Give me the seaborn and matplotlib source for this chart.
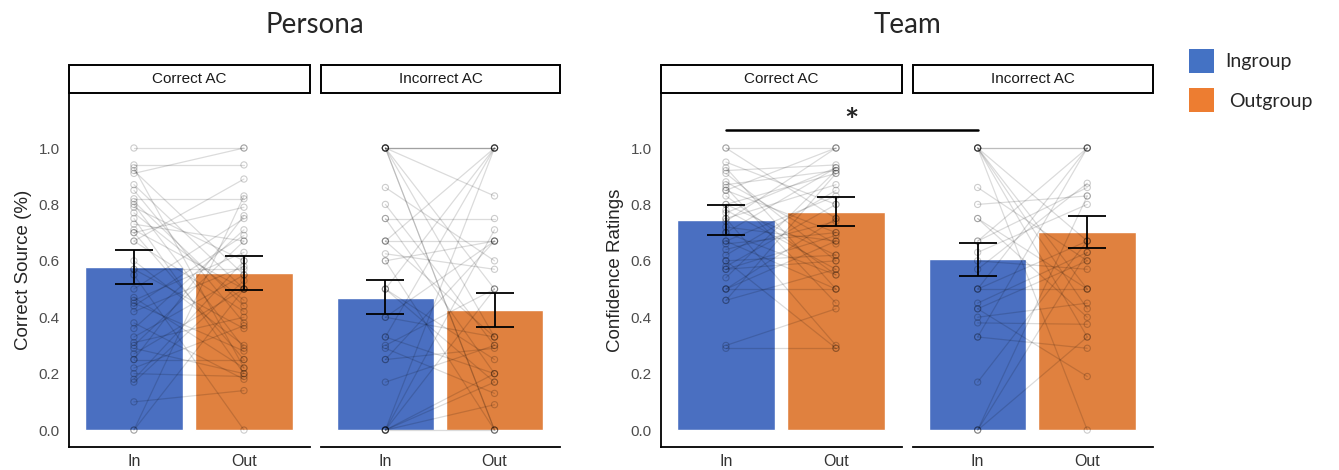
import pandas as pd
import matplotlib.pyplot as plt
import seaborn as sns
from matplotlib.patches import Rectangle
from matplotlib.lines import Line2D

sns.set_style("white")
plt.rcParams['font.family'] = ['Liberation Sans', 'DejaVu Sans']

# ---- data ----
groups = ["In", "Out"]
bar_colors = ["#4A6FC1", "#E0813F"]
facets = ["Correct AC", "Incorrect AC"]

# bar means and error bar bounds (In, Out)
persona_correct_mean = [0.577, 0.558]
persona_correct_lo = [0.517, 0.498]
persona_correct_hi = [0.637, 0.618]
persona_incorrect_mean = [0.470, 0.425]
persona_incorrect_lo = [0.411, 0.364]
persona_incorrect_hi = [0.532, 0.485]
team_correct_mean = [0.744, 0.774]
team_correct_lo = [0.691, 0.724]
team_correct_hi = [0.797, 0.826]
team_incorrect_mean = [0.605, 0.701]
team_incorrect_lo = [0.546, 0.646]
team_incorrect_hi = [0.664, 0.758]

# individual participants (In value, Out value)
persona_correct_in = [1.0, 0.94, 0.92, 0.91, 0.87, 0.85, 0.82, 0.80, 0.79, 0.77, 0.75, 0.73, 0.71,
                      0.70, 0.70, 0.67, 0.67, 0.57, 0.57, 0.50, 0.47, 0.46, 0.45, 0.44, 0.42, 0.38,
                      0.36, 0.33, 0.31, 0.30, 0.29, 0.27, 0.25, 0.25, 0.22, 0.20, 0.18, 0.17, 0.10,
                      0.0, 0.0, 0.60, 0.55, 0.81, 0.93]
persona_correct_out = [1.0, 0.94, 0.55, 1.0, 0.50, 0.38, 0.82, 0.29, 0.60, 0.46, 0.20, 0.67, 0.50,
                       0.25, 0.79, 0.42, 0.89, 0.57, 0.36, 0.75, 0.22, 0.63, 0.28, 0.69, 0.58, 0.18,
                       0.71, 0.55, 0.40, 0.67, 0.20, 0.50, 0.25, 0.76, 0.37, 0.19, 0.60, 0.53, 0.14,
                       0.50, 0.83, 0.30, 0.0, 0.44, 0.22]

persona_incorrect_in = [1.0, 1.0, 1.0, 1.0, 1.0, 1.0, 1.0, 1.0, 0.86, 0.80, 0.75, 0.75, 0.67, 0.67,
                        0.67, 0.625, 0.60, 0.60, 0.50, 0.50, 0.50, 0.40, 0.40, 0.33, 0.33, 0.30,
                        0.29, 0.25, 0.25, 0.17, 0.0, 0.0, 0.0, 0.0, 0.0, 0.0, 0.0]
persona_incorrect_out = [1.0, 1.0, 1.0, 0.0, 0.0, 0.50, 0.83, 0.33, 0.60, 0.30, 0.75, 0.20, 1.0, 0.67,
                         0.33, 0.57, 0.67, 0.0, 1.0, 0.25, 0.17, 0.67, 0.33, 1.0, 0.20, 0.50,
                         0.13, 0.67, 0.29, 0.30, 1.0, 0.50, 0.71, 0.20, 0.09, 0.0, 0.17]

team_correct_in = [1.0, 1.0, 0.93, 0.92, 0.91, 0.87, 0.86, 0.85, 0.85, 0.80, 0.78, 0.75, 0.75, 0.72,
                   0.70, 0.70, 0.67, 0.67, 0.64, 0.62, 0.60, 0.60, 0.58, 0.57, 0.57, 0.54, 0.50,
                   0.50, 0.50, 0.46, 0.46, 0.30, 0.29, 0.80, 0.74, 0.66, 0.95, 0.88, 0.83, 0.77]
team_correct_out = [1.0, 0.75, 0.50, 0.94, 0.60, 0.92, 0.45, 0.70, 1.0, 0.91, 0.57, 0.87, 0.30, 0.67,
                    0.93, 0.55, 0.83, 0.50, 0.74, 0.85, 0.62, 0.29, 0.80, 0.69, 0.60, 0.92, 0.50,
                    0.75, 0.67, 0.57, 0.91, 0.43, 0.29, 0.62, 1.0, 0.70, 0.80, 0.66, 0.55, 0.93]

team_incorrect_in = [1.0, 1.0, 1.0, 1.0, 1.0, 1.0, 1.0, 0.86, 0.80, 0.75, 0.75, 0.67, 0.67, 0.63,
                     0.60, 0.57, 0.50, 0.50, 0.50, 0.45, 0.43, 0.43, 0.40, 0.38, 0.33, 0.33, 0.17,
                     0.0, 0.0, 0.0]
team_incorrect_out = [1.0, 1.0, 0.50, 0.43, 0.0, 0.67, 0.33, 0.60, 0.83, 0.50, 0.40, 1.0, 0.86, 0.80,
                      0.57, 0.875, 1.0, 0.50, 0.67, 0.63, 0.60, 0.19, 0.45, 0.375, 1.0, 0.29, 0.67,
                      0.83, 0.33, 0.63]

panels = [
    (persona_correct_mean, persona_correct_lo, persona_correct_hi, persona_correct_in, persona_correct_out),
    (persona_incorrect_mean, persona_incorrect_lo, persona_incorrect_hi, persona_incorrect_in, persona_incorrect_out),
    (team_correct_mean, team_correct_lo, team_correct_hi, team_correct_in, team_correct_out),
    (team_incorrect_mean, team_incorrect_lo, team_incorrect_hi, team_incorrect_in, team_incorrect_out),
]

W, H = 1339, 470
fig = plt.figure(figsize=(W / 100, H / 100), dpi=100)

# axes left/right edges in pixels
edges = [(69, 310), (321, 560), (661, 902), (913, 1153)]
top_px, bot_px = 93, 447

axes = []
for i, (l, r) in enumerate(edges):
    ax = fig.add_axes([l / W, (H - bot_px) / H, (r - l) / W, (bot_px - top_px) / H])
    mean, lo, hi, v_in, v_out = panels[i]

    bars = pd.DataFrame({"group": groups, "mean": mean})
    sns.barplot(data=bars, x="group", y="mean", hue="group", palette=bar_colors,
                saturation=1, width=0.89, legend=False, ax=ax, zorder=1)

    # individual participant lines
    n = len(v_in)
    people = pd.DataFrame({
        "id": list(range(n)) * 2,
        "pos": [0] * n + [1] * n,
        "value": v_in + v_out,
    })
    sns.lineplot(data=people, x="pos", y="value", units="id", estimator=None,
                 color="black", alpha=0.14, linewidth=0.9, ax=ax, zorder=2)
    sns.scatterplot(data=people, x="pos", y="value", facecolor="none", edgecolor="black",
                    alpha=0.2, s=20, linewidth=0.8, ax=ax, zorder=3)

    # error bars
    yerr = [[m - a for m, a in zip(mean, lo)], [b - m for m, b in zip(mean, hi)]]
    ax.errorbar([0, 1], mean, yerr=yerr, fmt="none", ecolor="black",
                elinewidth=1.3, capsize=14, capthick=1.3, zorder=4)

    ax.set_xlim(-0.59, 1.6)
    ax.set_ylim(-0.06, 1.195)
    ax.set_xticks([0, 1])
    ax.set_xticklabels(groups, fontsize=11.5, color="#333333")
    ax.set_yticks([0, 0.2, 0.4, 0.6, 0.8, 1.0])
    ax.set_xlabel("")
    ax.set_ylabel("")
    ax.tick_params(axis="both", length=3, width=1, color="#333333", direction="out")
    ax.tick_params(axis="y", labelsize=11, labelcolor="#4D4D4D")
    ax.tick_params(axis="x", pad=2)
    for s in ["top", "right"]:
        ax.spines[s].set_visible(False)
    ax.spines["bottom"].set_linewidth(1.3)
    ax.spines["bottom"].set_color("black")
    if i % 2 == 0:
        ax.spines["left"].set_linewidth(1.3)
        ax.spines["left"].set_color("black")
        ax.set_yticklabels(["0.0", "0.2", "0.4", "0.6", "0.8", "1.0"])
    else:
        ax.spines["left"].set_visible(False)
        ax.tick_params(axis="y", left=False, labelleft=False)

    # facet strip
    strip_h = (top_px - 65) / (bot_px - top_px)
    ax.add_patch(Rectangle((0, 1), 1, strip_h, transform=ax.transAxes, facecolor="white",
                           edgecolor="black", linewidth=1.4, clip_on=False))
    ax.text(0.5, 1 + strip_h / 2, facets[i % 2], transform=ax.transAxes, ha="center",
            va="center", fontsize=11, color="#1A1A1A")
    axes.append(ax)

axes[0].set_ylabel("Correct Source (%)", fontsize=13.5, labelpad=5)
axes[2].set_ylabel("Confidence Ratings", fontsize=13.5, labelpad=5)

# group titles
title_font = ["Lato", "DejaVu Sans"]
fig.text(314.5 / W, 1 - 25 / H, "Persona", ha="center", va="center", fontsize=20, family=title_font)
fig.text(907 / W, 1 - 25 / H, "Team", ha="center", va="center", fontsize=20, family=title_font)

# significance bar across the Team panels
fig.canvas.draw()
inv = fig.transFigure.inverted()
p1 = inv.transform(axes[2].transData.transform((0, 1.064)))
p2 = inv.transform(axes[3].transData.transform((0, 1.064)))
fig.add_artist(Line2D([p1[0], p2[0]], [p1[1], p2[1]], color="black", linewidth=1.8))
fig.text((p1[0] + p2[0]) / 2, 1 - 122 / H, "*", ha="center", va="center", fontsize=24,
         fontweight="bold", family=title_font)

# legend
leg_labels = ["Ingroup", "Outgroup"]
leg_colors = ["#4472C4", "#ED7D31"]
leg_tops = [49, 88]
leg_text_x = [1225, 1229]
for lab, col, t, tx in zip(leg_labels, leg_colors, leg_tops, leg_text_x):
    fig.add_artist(Rectangle((1189 / W, 1 - (t + 24) / H), 25 / W, 24 / H,
                             transform=fig.transFigure, facecolor=col, edgecolor="none"))
    fig.text(tx / W, 1 - (t + 13) / H, lab, ha="left", va="center", fontsize=14,
             family=title_font)

fig.savefig("out.png", dpi=100)
